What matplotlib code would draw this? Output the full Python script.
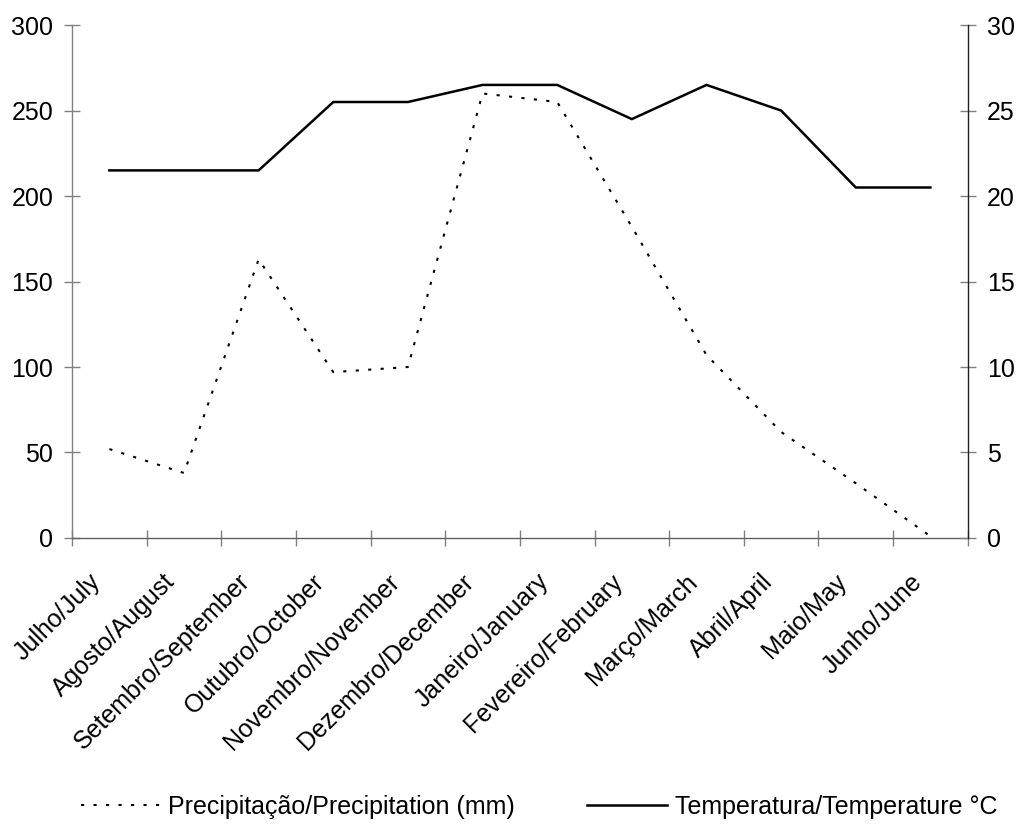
import matplotlib
matplotlib.use('Agg')
import matplotlib.pyplot as plt
import matplotlib.transforms as mtransforms
import numpy as np

# data
months = ['Julho/July', 'Agosto/August', 'Setembro/September', 'Outubro/October',
          'Novembro/November', 'Dezembro/December', 'Janeiro/January',
          'Fevereiro/February', 'Março/March', 'Abril/April', 'Maio/May', 'Junho/June']
precip = [52, 38, 163, 97, 100, 260, 255, 182, 107, 62, 32, 1]
temp = [21.5, 21.5, 21.5, 25.5, 25.5, 26.5, 26.5, 24.5, 26.5, 25, 20.5, 20.5]
left_ticks = [0, 50, 100, 150, 200, 250, 300]
right_ticks = [0, 5, 10, 15, 20, 25, 30]

plt.rcParams['font.family'] = ['Liberation Sans', 'DejaVu Sans']
plt.rcParams['font.size'] = 18

axis_grey = '#808080'

fig = plt.figure(figsize=(10.19, 8.36), dpi=100)
ax1 = fig.add_axes([0.0707, 0.3565, 0.879, 0.6135])
ax2 = ax1.twinx()

x = np.arange(len(months))
l1, = ax1.plot(x, precip, color='black', lw=1.5, ls=(0, (1.5, 4.5)))
l2, = ax2.plot(x, temp, color='black', lw=1.8, solid_joinstyle='miter')

ax1.set_xlim(-0.5, len(months) - 0.5)
ax1.set_ylim(0, 300)
ax2.set_ylim(0, 30)
ax1.set_yticks(left_ticks)
ax2.set_yticks(right_ticks)

# labels on category centres, tick marks on boundaries
ax1.set_xticks(x)
ax1.set_xticklabels(months, rotation=45, ha='right', rotation_mode='anchor')
ax1.set_xticks(np.arange(len(months) + 1) - 0.5, minor=True)
ax1.tick_params(axis='x', which='major', length=0, pad=14)
ax1.tick_params(axis='x', which='minor', direction='inout', length=11,
                width=1, color=axis_grey)
ax1.tick_params(axis='y', direction='inout', length=11, width=1,
                color=axis_grey, pad=8)
ax2.tick_params(axis='y', direction='inout', length=11, width=1,
                color=axis_grey, pad=8.5)

# nudge the rotated month labels left and down
shift = mtransforms.ScaledTranslation(-21 / 100, -12 / 100, fig.dpi_scale_trans)
for lab in ax1.get_xticklabels():
    lab.set_transform(lab.get_transform() + shift)

for ax in (ax1, ax2):
    ax.spines['top'].set_visible(False)
    for s in ('left', 'right', 'bottom'):
        ax.spines[s].set_color(axis_grey)
        ax.spines[s].set_linewidth(1)
ax1.spines['right'].set_visible(False)
ax2.spines['left'].set_visible(False)
ax2.spines['bottom'].set_visible(False)
ax2.spines['right'].set_color('#202020')
ax1.spines['bottom'].set_color('#606060')

fig.legend([l1, l2], ['Precipitação/Precipitation (mm)', 'Temperatura/Temperature °C'],
           loc='center', bbox_to_anchor=(0.529, 0.035), ncol=2, frameon=False,
           handlelength=3.2, handletextpad=0.3, columnspacing=2.9, fontsize=18)

fig.savefig('out.png', dpi=100)
